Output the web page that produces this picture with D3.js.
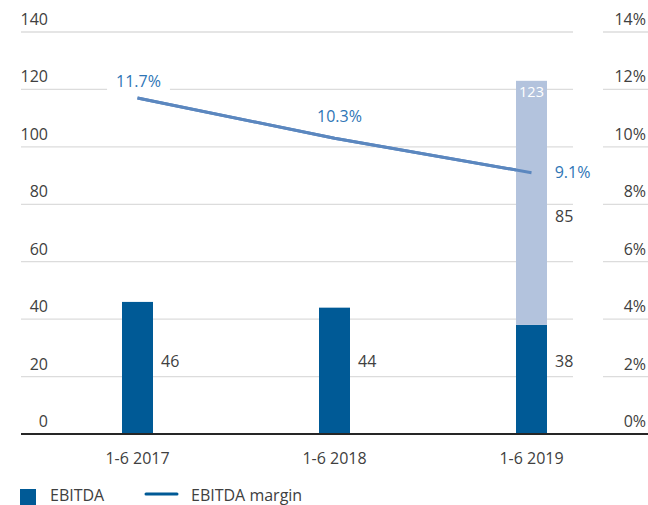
<!DOCTYPE html>
<html>
<head>
<meta charset="utf-8">
<script src="https://cdn.jsdelivr.net/npm/d3@7"></script>
<style>
  body { margin: 0; background: #fff; }
  svg { display: block; font-family: "Open Sans", "Noto Sans", sans-serif; }
</style>
</head>
<body>
<svg id="chart" width="648" height="505"></svg>
<script>
// Chart data
const categories = ['1-6 2017', '1-6 2018', '1-6 2019'];
const ebitda = [46, 44, 38];
const ebitdaExtra = [0, 0, 85];   // stacked light segment (2019 only)
const ebitdaTotal = [null, null, 123];
const margin = [11.7, 10.3, 9.1];
const leftTicks = [0, 20, 40, 60, 80, 100, 120, 140];
const rightTicks = [0, 2, 4, 6, 8, 10, 12, 14];

const svg = d3.select('#chart');
const dark = '#005a96', light = '#b3c3dd', lineColor = '#5b87bf';
const textColor = '#404040', pctColor = '#2e75b6', gridColor = '#dcdcdc';
const fs = 16;

// Scales
const y = d3.scaleLinear().domain([0, 140]).range([434, 32]);
const y2 = d3.scaleLinear().domain([0, 14]).range([434, 32]);
const x = d3.scalePoint().domain(categories).range([137.5, 531.5]);
const barW = 31;

const rows = categories.map((c, i) => ({
  cat: c, base: ebitda[i], extra: ebitdaExtra[i], total: ebitdaTotal[i]
}));

// Gridlines (plot area + right label area)
const grid = svg.append('g');
for (const [x1, x2] of [[21, 573], [603, 648]]) {
  grid.selectAll(null).data(leftTicks.slice(1)).join('line')
    .attr('x1', x1).attr('x2', x2)
    .attr('y1', d => y(d)).attr('y2', d => y(d))
    .attr('stroke', gridColor).attr('stroke-width', 1.3);
}

// Left axis labels
svg.append('g').selectAll('text').data(leftTicks).join('text')
  .attr('x', 48).attr('y', d => y(d) - 7)
  .attr('text-anchor', 'end')
  .attr('font-size', fs).attr('fill', textColor)
  .text(d => d);

// Right axis labels
svg.append('g').selectAll('text').data(rightTicks).join('text')
  .attr('x', 646).attr('y', d => y2(d) - 7)
  .attr('text-anchor', 'end')
  .attr('font-size', fs).attr('fill', textColor)
  .text(d => d + '%');

// Margin line
svg.append('path')
  .datum(margin)
  .attr('d', d3.line().x((d, i) => x(categories[i])).y(d => y2(d)))
  .attr('fill', 'none')
  .attr('stroke', lineColor)
  .attr('stroke-width', 3);

// Margin labels (first two above the point, last one to the right)
const plab = svg.append('g').attr('font-size', fs).attr('fill', pctColor);
margin.forEach((m, i) => {
  const last = i === margin.length - 1;
  const px = last ? x(categories[i]) + 41 : x(categories[i]) + (i === 0 ? 1 : 5);
  const py = last ? y2(m) + 5 : y2(m) - (i === 0 ? 11 : 16);
  const t = plab.append('text')
    .attr('x', px).attr('y', py)
    .attr('text-anchor', 'middle')
    .text(m.toFixed(1) + '%');
  const bb = t.node().getBBox();
  plab.insert('rect', () => t.node())
    .attr('x', bb.x - 9).attr('y', bb.y - 2)
    .attr('width', bb.width + 18).attr('height', bb.height + 4)
    .attr('fill', '#fff');
});

// Bars (drawn over the label boxes)
const bars = svg.append('g');
bars.selectAll(null).data(rows).join('rect')
  .attr('x', d => x(d.cat) - barW / 2)
  .attr('y', d => y(d.base))
  .attr('width', barW)
  .attr('height', d => y(0) - y(d.base))
  .attr('fill', dark);

bars.selectAll(null).data(rows.filter(d => d.extra > 0)).join('rect')
  .attr('x', d => x(d.cat) - barW / 2)
  .attr('y', d => y(d.base + d.extra))
  .attr('width', barW)
  .attr('height', d => y(d.base) - y(d.base + d.extra))
  .attr('fill', light);

// Line on top of the bar it ends in
svg.append('path')
  .datum(margin)
  .attr('d', d3.line().x((d, i) => x(categories[i])).y(d => y2(d)))
  .attr('fill', 'none')
  .attr('stroke', lineColor)
  .attr('stroke-width', 3);

// Bar value labels
const vlab = svg.append('g').attr('font-size', fs).attr('fill', textColor);
vlab.selectAll(null).data(rows).join('text')
  .attr('x', d => x(d.cat) + barW / 2 + 8)
  .attr('y', y(25) + 5)
  .text(d => d.base);
vlab.selectAll(null).data(rows.filter(d => d.extra > 0)).join('text')
  .attr('x', d => x(d.cat) + barW / 2 + 8)
  .attr('y', d => y(d.base + d.extra / 2) + 19)
  .text(d => d.extra);
vlab.selectAll(null).data(rows.filter(d => d.total != null)).join('text')
  .attr('x', d => x(d.cat)).attr('y', d => y(d.total) + 16)
  .attr('text-anchor', 'middle').attr('fill', '#fff')
  .attr('font-size', 14.5)
  .text(d => d.total);

// Axis baseline
svg.append('line')
  .attr('x1', 21).attr('x2', 648)
  .attr('y1', y(0)).attr('y2', y(0))
  .attr('stroke', '#262626').attr('stroke-width', 2.2);

// Category labels
svg.append('g').selectAll('text').data(categories).join('text')
  .attr('x', d => x(d)).attr('y', 464)
  .attr('text-anchor', 'middle')
  .attr('font-size', fs).attr('fill', textColor)
  .text(d => d);

// Legend
const lg = svg.append('g').attr('font-size', fs).attr('fill', textColor);
lg.append('rect').attr('x', 20).attr('y', 489).attr('width', 16).attr('height', 16).attr('fill', dark);
lg.append('text').attr('x', 50).attr('y', 501).text('EBITDA');
lg.append('line').attr('x1', 146).attr('x2', 177).attr('y1', 494).attr('y2', 494)
  .attr('stroke', dark).attr('stroke-width', 3).attr('stroke-linecap', 'round');
lg.append('text').attr('x', 191).attr('y', 501).text('EBITDA margin');
</script>
</body>
</html>
